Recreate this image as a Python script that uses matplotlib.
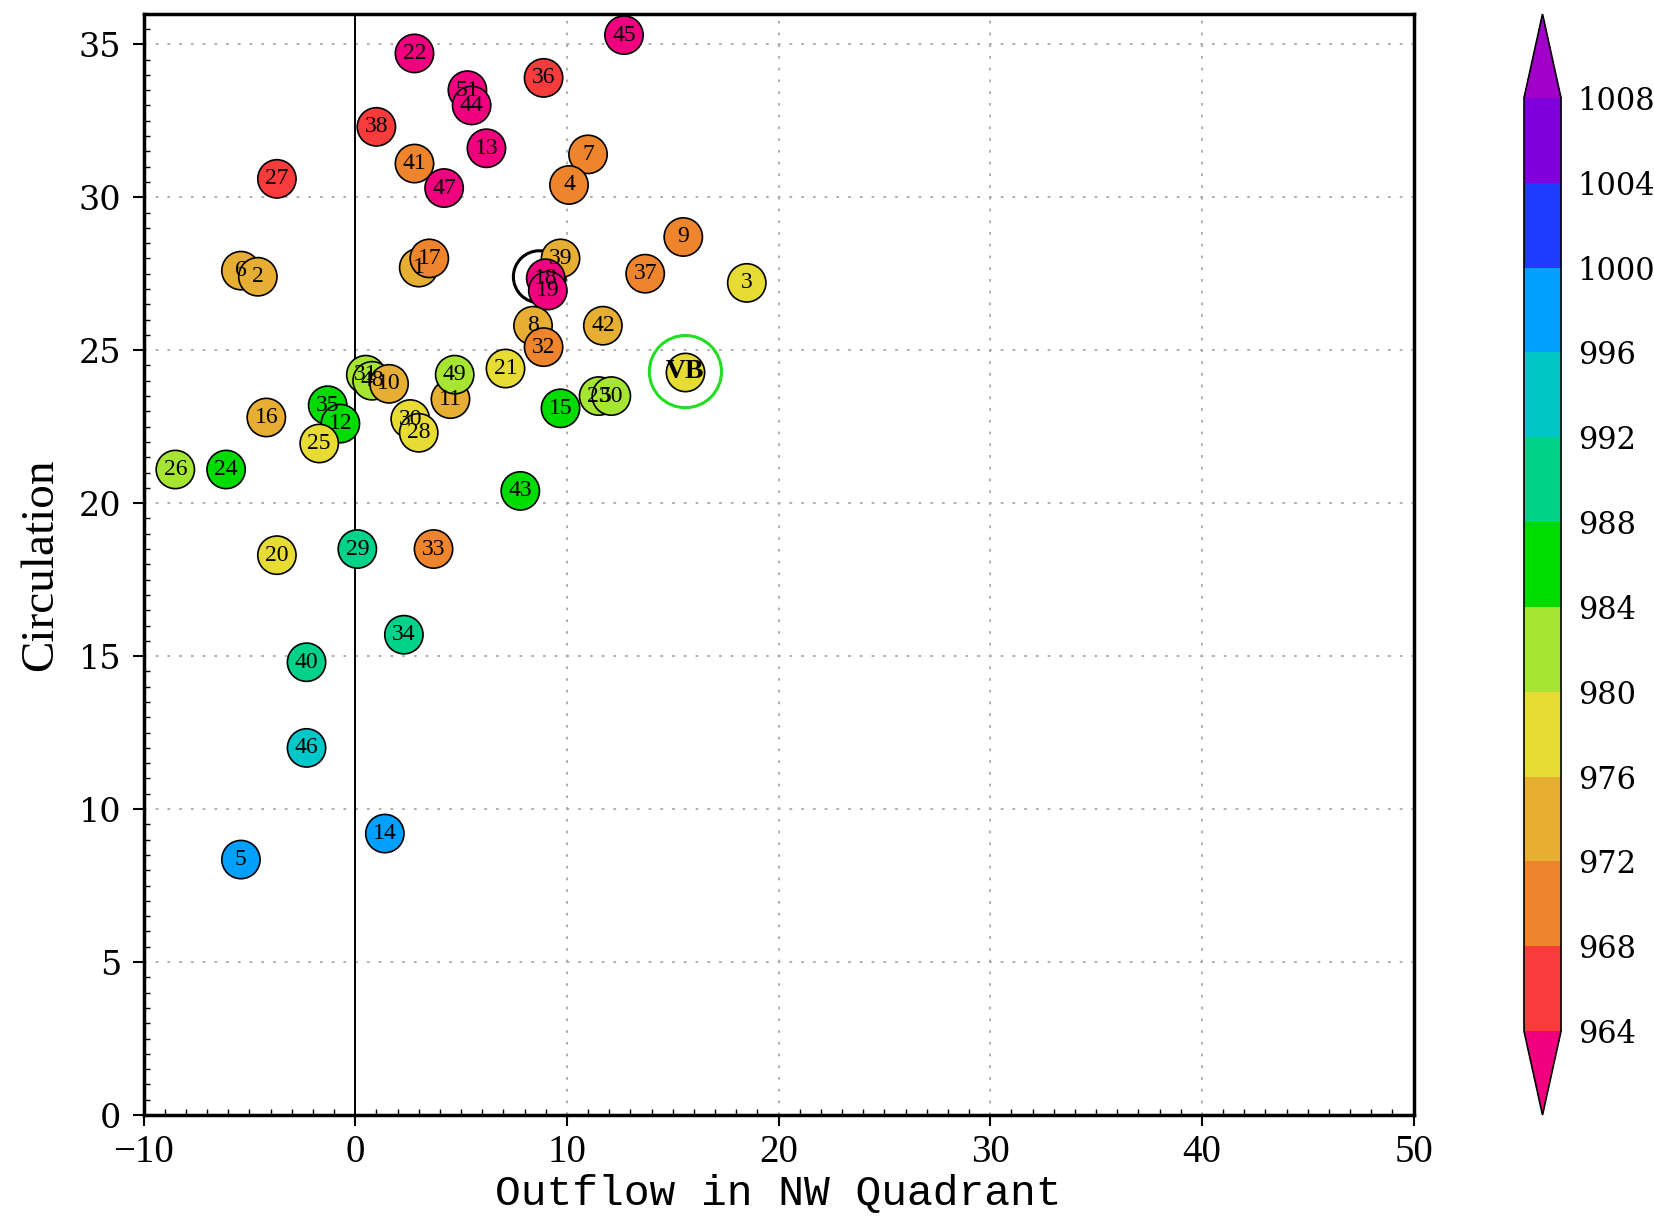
import matplotlib
matplotlib.use("Agg")
import matplotlib.pyplot as plt
import numpy as np
from matplotlib.colors import ListedColormap, BoundaryNorm
from matplotlib.ticker import MultipleLocator

# Storm identifiers, NW-quadrant outflow, circulation and minimum pressure (hPa)
labels = ["45", "22", "36", "51", "44", "38", "13", "7", "41", "4", "47", "27",
          "9", "6", "2", "1", "17", "39", "18", "19", "37", "3", "8", "32",
          "42", "21", "11", "49", "15", "23", "50", "31", "48", "10", "16",
          "35", "12", "25", "30", "28", "26", "24", "43", "20", "29", "33",
          "34", "40", "46", "14", "5"]
outflow = [12.7, 2.8, 8.9, 5.3, 5.5, 1.0, 6.2, 11.0, 2.8, 10.1, 4.2, -3.7,
           15.5, -5.4, -4.6, 3.0, 3.5, 9.7, 9.0, 9.1, 13.7, 18.5, 8.4, 8.9,
           11.7, 7.1, 4.5, 4.7, 9.7, 11.5, 12.1, 0.5, 0.8, 1.6, -4.2,
           -1.3, -0.7, -1.7, 2.6, 3.0, -8.5, -6.1, 7.8, -3.7, 0.1, 3.7,
           2.3, -2.3, -2.3, 1.4, -5.4]
circulation = [35.3, 34.7, 33.9, 33.5, 33.0, 32.3, 31.6, 31.4, 31.1, 30.4, 30.3, 30.6,
               28.7, 27.6, 27.4, 27.7, 28.0, 28.0, 27.35, 26.95, 27.5, 27.2, 25.8, 25.1,
               25.8, 24.4, 23.4, 24.2, 23.1, 23.5, 23.5, 24.2, 24.0, 23.9, 22.8,
               23.2, 22.6, 21.95, 22.75, 22.3, 21.1, 21.1, 20.4, 18.3, 18.5, 18.5,
               15.7, 14.8, 12.0, 9.2, 8.35]
pressure = [960, 960, 966, 960, 960, 966, 960, 970, 970, 970, 960, 966,
            970, 974, 974, 974, 970, 974, 960, 960, 970, 978, 974, 970,
            974, 978, 974, 982, 986, 982, 982, 982, 982, 974, 974,
            986, 986, 978, 978, 978, 982, 986, 986, 978, 990, 970,
            990, 990, 994, 998, 998]

# Reference storm and the ringed cluster
vb_label = "VB"
vb_outflow, vb_circulation, vb_pressure = 15.6, 24.3, 978
ring_outflow, ring_circulation = 8.7, 27.4

levels = [964, 968, 972, 976, 980, 984, 988, 992, 996, 1000, 1004, 1008]
bin_colors = ["#F83C3C", "#EE852C", "#E6AE32", "#E6DC34", "#A6E632", "#00DC00",
              "#00D28A", "#00C8C8", "#00A0FF", "#1E3CFF", "#8000DC"]
under_color, over_color = "#F0007F", "#A000C8"

cmap = ListedColormap(bin_colors)
cmap.set_under(under_color)
cmap.set_over(over_color)
norm = BoundaryNorm(levels, cmap.N)

fig = plt.figure(figsize=(16.54, 12.19), dpi=100)
ax = fig.add_axes([0.0868, 0.0853, 0.7678, 0.9035])

ax.set_xlim(-10, 50)
ax.set_ylim(0, 36)
ax.xaxis.set_major_locator(MultipleLocator(10))
ax.yaxis.set_major_locator(MultipleLocator(5))
ax.xaxis.set_minor_locator(MultipleLocator(1))
ax.yaxis.set_minor_locator(MultipleLocator(0.5))

ax.grid(True, which="major", color="#A8A8A8", linestyle=(0, (1.5, 5)), linewidth=1.3)
ax.axvline(0, color="black", linewidth=1.4, zorder=2.5)

sc = ax.scatter(outflow, circulation, c=pressure, cmap=cmap, norm=norm,
                s=760, edgecolors="black", linewidths=1.2, zorder=3)
for lab, x, y in zip(labels, outflow, circulation):
    ax.text(x, y, lab, ha="center", va="center", fontsize=17,
            family="Liberation Serif", color="black", zorder=4)

ax.scatter([ring_outflow], [ring_circulation], s=1400, facecolors="none",
           edgecolors="black", linewidths=2.2, zorder=2.8)

ax.scatter([vb_outflow], [vb_circulation], c=[vb_pressure], cmap=cmap, norm=norm,
           s=760, edgecolors="black", linewidths=1.2, zorder=3)
ax.text(vb_outflow, vb_circulation, vb_label, ha="center", va="center",
        fontsize=20, fontweight="bold", family="Liberation Serif", zorder=4)
ax.scatter([vb_outflow], [vb_circulation], s=2700, facecolors="none",
           edgecolors="#22DD22", linewidths=2.2, zorder=3)

for side in ["top", "bottom", "left", "right"]:
    ax.spines[side].set_linewidth(2.5)

ax.tick_params(axis="both", which="major", direction="out", length=8, width=1.5)
ax.tick_params(axis="both", which="minor", direction="in", length=4, width=1)
ax.tick_params(axis="x", which="both", top=False)
ax.tick_params(axis="y", which="both", right=False)
ax.tick_params(axis="x", pad=6)
ax.tick_params(axis="y", pad=8)

for t in ax.get_xticklabels():
    t.set_fontfamily("Liberation Serif")
    t.set_fontsize(28)
for t in ax.get_yticklabels():
    t.set_fontfamily("DejaVu Serif")
    t.set_fontsize(24)

ax.set_xlabel("Outflow in NW Quadrant", fontsize=31, family="Liberation Mono",
              labelpad=2)
ax.set_ylabel("Circulation", fontsize=34, family="Liberation Serif", labelpad=12)

cax = fig.add_axes([0.9214, 0.0853, 0.0224, 0.9032])
cb = fig.colorbar(sc, cax=cax, extend="both", extendfrac=0.09, ticks=levels,
                  drawedges=False)
cb.outline.set_linewidth(1.2)
cb.ax.tick_params(length=0, pad=12)
for t in cb.ax.get_yticklabels():
    t.set_fontfamily("DejaVu Serif")
    t.set_fontsize(22)

fig.savefig("out.png", dpi=100)
